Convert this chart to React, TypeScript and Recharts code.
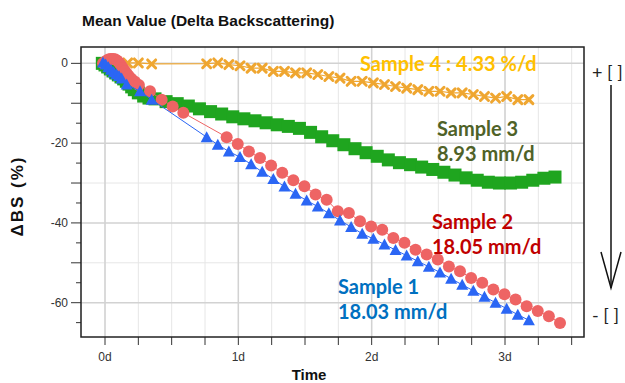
import React from 'react';
import { ScatterChart, Scatter, XAxis, YAxis, CartesianGrid, ReferenceLine } from 'recharts';

// ---------- data (time in days, ΔBS in %) ----------
const s1Days = [
  -0.015, 0.005, 0.025, 0.045, 0.065, 0.085, 0.105, 0.125, 0.1625, 0.2625, 0.35,
  0.7625, 0.846, 0.929, 1.0125, 1.096, 1.179, 1.2625, 1.346, 1.429, 1.5125,
  1.596, 1.679, 1.7625, 1.846, 1.929, 2.0125, 2.096, 2.179, 2.2625, 2.346,
  2.429, 2.5125, 2.596, 2.679, 2.7625, 2.846, 2.929, 3.0125, 3.096, 3.179,
];
const s1Values = [
  0.2, -0.3, -1.0, -1.6, -2.2, -2.7, -3.2, -3.8, -5.3, -7.0, -9.1,
  -18.5, -20.4, -22.1, -23.5, -25.3, -27.2, -29.0, -30.9, -32.7, -34.4,
  -35.9, -37.6, -39.4, -41.0, -42.7, -44.0, -45.4, -46.8, -48.2, -49.6,
  -51.0, -52.4, -54.0, -55.5, -57.0, -58.5, -60.0, -61.5, -63.0, -64.4,
];

const s2Days = [
  -0.015, 0.0, 0.015, 0.03, 0.045, 0.06, 0.075, 0.09, 0.105, 0.12, 0.135,
  0.15, 0.165, 0.18, 0.2, 0.225, 0.254, 0.3375, 0.425, 0.5075, 0.5875,
  0.9125, 0.9958, 1.0792, 1.1625, 1.2458, 1.3292, 1.4125, 1.4958, 1.5792, 1.6625,
  1.7458, 1.8292, 1.9125, 1.9958, 2.0792, 2.1625, 2.2458, 2.3292, 2.4125, 2.4958,
  2.5792, 2.6625, 2.7458, 2.8292, 2.9125, 2.9958, 3.0792, 3.1625, 3.2458, 3.3292, 3.4125,
];
const s2Values = [
  0.0, 0.4, 0.8, 1.0, 1.1, 1.1, 1.0, 0.7, 0.2, -0.5, -1.2,
  -1.9, -2.6, -3.2, -3.9, -4.6, -5.4, -7.0, -9.1, -10.8, -12.4,
  -18.5, -20.2, -22.1, -23.7, -25.6, -27.4, -29.3, -30.8, -32.9, -34.2,
  -37.1, -37.5, -39.6, -40.9, -41.7, -43.8, -45.0, -46.7, -47.9, -49.2,
  -50.9, -52.1, -53.8, -55.0, -56.7, -57.9, -59.2, -60.9, -62.1, -63.4, -65.1,
];

const s3Days = [
  -0.02, 0.0, 0.02, 0.04, 0.06, 0.08, 0.1, 0.12, 0.14, 0.16, 0.18, 0.2, 0.22, 0.25, 0.29, 0.33,
  0.375, 0.4583, 0.5417, 0.625, 0.7083, 0.7917, 0.875, 0.9583, 1.0417, 1.125,
  1.2083, 1.2917, 1.375, 1.4583, 1.5417, 1.625, 1.7083, 1.7917, 1.875, 1.9583,
  2.0417, 2.125, 2.2083, 2.2917, 2.375, 2.4583, 2.5417, 2.625, 2.7083, 2.7917,
  2.875, 2.9583, 3.0417, 3.125, 3.2083, 3.2917, 3.375,
];
const s3Values = [
  0.0, -0.4, -0.9, -1.4, -1.9, -2.4, -2.9, -3.4, -3.9, -4.5, -5.2, -5.9, -6.6, -7.4, -8.2, -8.7,
  -8.9, -9.6, -10.1, -10.7, -11.4, -12.1, -12.7, -13.4, -13.9, -14.4,
  -14.9, -15.4, -15.8, -16.3, -17.3, -18.4, -19.4, -20.4, -21.4, -22.4,
  -23.3, -24.2, -24.9, -25.4, -26.0, -26.6, -27.3, -28.0, -28.7, -29.3,
  -29.8, -30.0, -30.0, -29.8, -29.3, -28.8, -28.5,
];

const s4Days = [
  0.0, 0.08, 0.17, 0.25, 0.35,
  0.7625, 0.846, 0.929, 1.0125, 1.096, 1.179, 1.2625, 1.346, 1.429, 1.5125,
  1.596, 1.679, 1.7625, 1.846, 1.929, 2.0125, 2.096, 2.179, 2.2625, 2.346,
  2.429, 2.5125, 2.596, 2.679, 2.7625, 2.846, 2.929, 3.0125, 3.096, 3.179,
];
const s4Values = [
  0.0, 0.1, 0.1, 0.1, -0.15,
  -0.1, 0.1, -0.3, -0.6, -1.2, -1.2, -2.0, -2.0, -2.4, -2.4,
  -2.8, -3.3, -3.7, -4.5, -4.5, -4.9, -5.3, -5.8, -6.2, -6.6,
  -7.0, -7.0, -7.4, -7.4, -7.8, -8.3, -8.7, -8.3, -9.1, -9.1,
];

const xTicks = [0, 0.25, 0.5, 0.75, 1, 1.25, 1.5, 1.75, 2, 2.25, 2.5, 2.75, 3, 3.25, 3.5];
const xMajor = [0, 1, 2, 3];
const xTickLabels: Record<string, string> = { '0': '0d', '1': '1d', '2': '2d', '3': '3d' };
const yTicks = [-65, -60, -55, -50, -45, -40, -35, -30, -25, -20, -15, -10, -5, 0];
const yGridMinor = [-50, -30, -10];
const yGridMajor = [-60, -40, -20, 0];
const yLabelValues = [-60, -40, -20, 0];

// ---------- styles ----------
const C1 = '#2B66F4';
const C2 = '#EE6464';
const C3 = '#1FA51F';
const C4 = '#EFA630';
const AX_FONT = '"Liberation Sans", Arial, sans-serif';
const ANN_FONT = 'Lato, "Open Sans", sans-serif';

const zip = (d: number[], v: number[]) => d.map((x, i) => ({ x, y: v[i] }));
const data1 = zip(s1Days, s1Values);
const data2 = zip(s2Days, s2Values);
const data3 = zip(s3Days, s3Values);
const data4 = zip(s4Days, s4Values);

const Tri = (p: any) => (
  <polygon
    points={`${p.cx},${p.cy - 6} ${p.cx + 6},${p.cy + 5} ${p.cx - 6},${p.cy + 5}`}
    fill={C1}
  />
);
const Dot = (p: any) => <circle cx={p.cx} cy={p.cy} r={6} fill={C2} />;
const Sq = (p: any) => <rect x={p.cx - 6.5} y={p.cy - 6.5} width={13} height={13} fill={C3} />;
const Cross = (p: any) => (
  <g stroke={C4} strokeWidth={3} strokeLinecap="round">
    <line x1={p.cx - 4} y1={p.cy - 4} x2={p.cx + 4} y2={p.cy + 4} />
    <line x1={p.cx - 4} y1={p.cy + 4} x2={p.cx + 4} y2={p.cy - 4} />
  </g>
);

const YTick = (p: any) => {
  const v = p.payload.value;
  const major = v % 10 === 0;
  const len = major ? 10 : 5;
  return (
    <g>
      <line x1={p.x - len} x2={p.x} y1={p.y} y2={p.y} stroke="#333" strokeWidth={1} />
      {yLabelValues.includes(v) && (
        <text x={p.x - 13} y={p.y} dy={4} textAnchor="end" fontSize={12} fill="#333" fontFamily={AX_FONT}>
          {v}
        </text>
      )}
    </g>
  );
};

const XTick = (p: any) => {
  const v = p.payload.value;
  const label = xTickLabels[String(v)];
  return (
    <g>
      <line x1={p.x} x2={p.x} y1={p.y} y2={p.y + 8} stroke="#333" strokeWidth={1} />
      {label && (
        <text x={p.x} y={p.y + 24} textAnchor="middle" fontSize={12} fill="#333" fontFamily={AX_FONT}>
          {label}
        </text>
      )}
    </g>
  );
};

export default function App() {
  return (
    <div style={{ position: 'absolute', left: 0, top: 0, width: 625, height: 383, background: '#fff' }}>
      <ScatterChart width={625} height={383} margin={{ top: 47, right: 41, bottom: 0, left: 0 }}>
        <CartesianGrid horizontal={false} stroke="#e6e6e6" strokeWidth={1} />
        {yGridMinor.map((v) => (
          <ReferenceLine key={'ym' + v} y={v} stroke="#e6e6e6" strokeWidth={1} ifOverflow="hidden" />
        ))}
        {yGridMajor.map((v) => (
          <ReferenceLine key={'yM' + v} y={v} stroke="#d2d2d2" strokeWidth={1.5} ifOverflow="hidden" />
        ))}
        {xMajor.map((v) => (
          <ReferenceLine key={'xM' + v} x={v} stroke="#d2d2d2" strokeWidth={1.5} ifOverflow="hidden" />
        ))}
        <XAxis
          type="number"
          dataKey="x"
          domain={[-0.18, 3.5925]}
          allowDataOverflow
          ticks={xTicks}
          interval={0}
          height={46}
          tickLine={false}
          axisLine={false}
          tickSize={0}
          tickMargin={0}
          tick={XTick}
        />
        <YAxis
          type="number"
          dataKey="y"
          domain={[-68.6, 4.1]}
          allowDataOverflow
          ticks={yTicks}
          interval={0}
          width={81}
          tickLine={false}
          axisLine={false}
          tickSize={0}
          tickMargin={0}
          tick={YTick}
        />
        <Scatter data={data4} line={{ stroke: C4, strokeWidth: 1.2 }} shape={Cross} isAnimationActive={false} />
        <Scatter data={data3} line={{ stroke: C3, strokeWidth: 1 }} shape={Sq} isAnimationActive={false} />
        <Scatter data={data2} line={{ stroke: C2, strokeWidth: 1 }} shape={Dot} isAnimationActive={false} />
        <Scatter data={data1} line={{ stroke: C1, strokeWidth: 1 }} shape={Tri} isAnimationActive={false} />
      </ScatterChart>
      <svg
        width={625}
        height={383}
        style={{ position: 'absolute', left: 0, top: 0, pointerEvents: 'none' }}
      >
        <rect x={81} y={47} width={503} height={290} fill="none" stroke="#222" strokeWidth={1.5} />
        <text x={82} y={25.5} fontSize={15.5} fontWeight="bold" fill="#111" fontFamily={AX_FONT}>
          Mean Value (Delta Backscattering)
        </text>
        <text
          x={17}
          y={196}
          transform="rotate(-90 17 196)"
          textAnchor="middle"
          dominantBaseline="central"
          fontSize={17}
          fontWeight="bold"
          fill="#111"
          fontFamily={AX_FONT}
          letterSpacing={2}
        >
          ΔBS (%)
        </text>
        <text x={309} y={380} textAnchor="middle" fontSize={15} fontWeight="bold" fill="#111" fontFamily={AX_FONT}>
          Time
        </text>

        <g fontFamily={ANN_FONT} fontWeight="bold" fontSize={20}>
          <text x={360} y={70.5} fill="#FFC000">Sample 4 : 4.33 %/d</text>
          <text x={437} y={135.5} fill="#4F6228">Sample 3</text>
          <text x={437} y={160.5} fill="#4F6228">8.93 mm/d</text>
          <text x={432} y={229} fill="#C00000">Sample 2</text>
          <text x={432} y={254} fill="#C00000">18.05 mm/d</text>
          <text x={338} y={294} fill="#0070C0">Sample 1</text>
          <text x={338} y={319} fill="#0070C0">18.03 mm/d</text>
        </g>

        <g fontFamily={ANN_FONT} fontSize={18} fill="#222">
          <text x={592} y={79}>+ [ ]</text>
          <text x={592} y={322}>- [ ]</text>
        </g>
        <g stroke="#111" strokeWidth={1.5} fill="none">
          <line x1={611} y1={85} x2={611} y2={288} />
          <polyline points="601,252 611,288 621,252" />
        </g>
      </svg>
    </div>
  );
}
